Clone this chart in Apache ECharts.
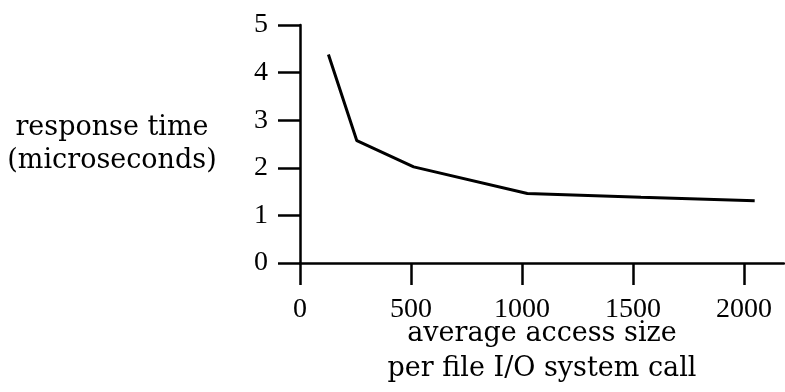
<!DOCTYPE html>
<html>
<head>
<meta charset="utf-8">
<script src="https://cdn.jsdelivr.net/npm/echarts@6/dist/echarts.min.js"></script>
<style>
  html, body { margin: 0; padding: 0; background: #fff; }
  #main { width: 785px; height: 392px; }
</style>
</head>
<body>
<div id="main"></div>
<script>
// average access size per call vs response time
var accessSize = [128, 256, 512, 1024, 1536, 2048];
var responseTime = [4.38, 2.57, 2.02, 1.46, 1.38, 1.31];
var xTicks = [0, 500, 1000, 1500, 2000];
var yTicks = [0, 1, 2, 3, 4, 5];

var points = [];
for (var i = 0; i < accessSize.length; i++) {
    points.push([accessSize[i], responseTime[i]]);
}

var myChart = echarts.init(document.getElementById('main'));
var axisFont = { fontFamily: 'Liberation Serif', fontSize: 28, color: '#000' };
var nameFont = { fontFamily: 'DejaVu Serif', fontSize: 27, color: '#000' };
var plain = function (v) { return String(v); };

var option = {
    animation: false,
    backgroundColor: '#fff',
    grid: {
        left: 300,
        right: 1,
        top: 25,
        bottom: 129,
        outerBoundsMode: 'none',
        containLabel: false
    },
    xAxis: {
        type: 'value',
        min: 0,
        max: 2180,
        interval: 500,
        name: 'average access size\nper file I/O system call',
        nameLocation: 'middle',
        nameGap: 53,
        nameMoveOverlap: false,
        nameTextStyle: Object.assign({ lineHeight: 35, align: 'center' }, nameFont),
        splitLine: { show: false },
        axisLine: { lineStyle: { color: '#000', width: 2.5 } },
        axisTick: {
            length: 22,
            customValues: xTicks,
            lineStyle: { color: '#000', width: 2.5 }
        },
        axisLabel: Object.assign({ margin: 33, customValues: xTicks, formatter: plain }, axisFont)
    },
    yAxis: {
        type: 'value',
        min: 0,
        max: 5,
        interval: 1,
        name: 'response time\n(microseconds)',
        nameLocation: 'middle',
        nameRotate: 0,
        nameGap: 188,
        nameMoveOverlap: false,
        nameTextStyle: Object.assign({ lineHeight: 33, align: 'center', padding: [10, 0, 0, 0] }, nameFont),
        splitLine: { show: false },
        axisLine: { show: true, lineStyle: { color: '#000', width: 2.5 } },
        axisTick: {
            show: true,
            length: 22,
            customValues: yTicks,
            lineStyle: { color: '#000', width: 2.5 }
        },
        axisLabel: Object.assign({ margin: 32, customValues: yTicks, formatter: plain }, axisFont)
    },
    series: [
        {
            type: 'line',
            data: points,
            showSymbol: false,
            symbol: 'none',
            lineStyle: { color: '#000', width: 3 }
        }
    ]
};
myChart.setOption(option);
</script>
</body>
</html>
